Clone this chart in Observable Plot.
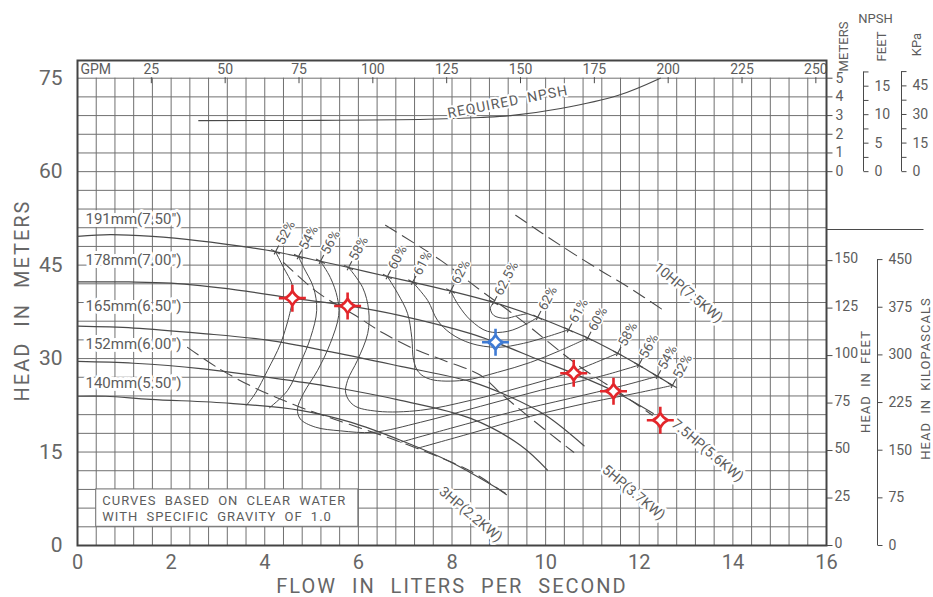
<!DOCTYPE html>
<html><head><meta charset="utf-8">
<script src="https://cdn.jsdelivr.net/npm/d3@7"></script>
<script src="https://cdn.jsdelivr.net/npm/@observablehq/plot@0.6"></script>
<style>body{margin:0;background:#fff}</style>
</head><body><div id="chart"></div>
<script>
// ---------- axis ticks ----------
const flowTicks = [0, 2, 4, 6, 8, 10, 12, 14, 16];
const headTicks = [0, 15, 30, 45, 60, 75];
const gpmTicks = [25, 50, 75, 100, 125, 150, 175, 200, 225, 250];
const npshMeters = [0, 1, 2, 3, 4, 5];
const npshFeetLabels = [0, 5, 10, 15];
const npshKpaLabels = [0, 15, 30, 45];
const headFeetTicks = [0, 25, 50, 75, 100, 125, 150];
const headKpaTicks = [0, 75, 150, 225, 300, 375, 450];

// ---------- impeller head curves [flow L/s, head m] ----------
const impellerNames = ["191mm(7.50\")", "178mm(7.00\")", "165mm(6.50\")", "152mm(6.00\")", "140mm(5.50\")"];
const impellerLabelHead = [52.3, 45.8, 38.4, 32.3, 26.0];
const imp191 = [[0,49.6],[0.7,49.9],[1.6,49.6],[2.6,48.9],[3.7,47.8],[4.23,47.15],[5.19,45.62],[5.79,44.62],[6.62,43.17],[7.16,42.27],[7.97,40.85],[8.89,39.02],[9.83,36.63],[10.49,34.63],[10.9,33.3],[11.54,30.85],[11.99,28.94],[12.39,27.15],[12.71,25.7]];
const imp178 = [[0,42.3],[1.1,42.3],[2.0,42.1],[3.42,41.0],[4.59,39.7],[5.77,38.5],[6.9,36.9],[8.4,34.0],[8.93,32.6],[9.89,29.7],[10.6,27.6],[11.45,24.8],[12.3,21.2]];
const imp165 = [[0,35.2],[1.2,34.9],[2.63,34.05],[4.06,32.95],[5.47,31.0],[6.9,28.76],[8.4,26.3],[9.2,24.0],[10.0,20.9],[10.82,16.0]];
const imp152 = [[0,29.55],[1.2,29.25],[2.63,28.4],[4.06,27.0],[5.47,25.4],[6.9,23.3],[8.4,20.4],[9.46,16.1],[10.04,12.1]];
const imp140 = [[0,23.95],[0.6,23.95],[1.56,23.46],[3.27,22.82],[4.76,21.7],[5.83,19.8],[6.9,16.89],[7.97,13.4],[9.14,8.4]];

// ---------- efficiency iso-lines ----------
const eff52L = [[4.23,47.15],[4.40,44.64],[4.59,41.75],[4.59,39.66],[4.55,37.74],[4.34,32.45],[4.06,28.12],[3.80,24.43],[3.61,22.5]];
const eff52R = [[7.26,15.6],[8.40,18.0],[9.68,20.74],[10.96,22.98],[12.03,24.59],[12.71,25.7]];
const eff54L = [[4.72,46.37],[4.83,44.64],[5.04,41.43],[5.11,37.74],[4.98,33.41],[4.76,29.24],[4.49,24.91],[4.10,22.1]];
const eff54R = [[6.90,16.57],[7.97,18.81],[9.25,21.38],[10.53,23.63],[11.6,25.55],[12.39,27.15]];
const eff56 = [[5.19,45.62],[5.40,43.03],[5.55,39.82],[5.58,36.94],[5.40,32.45],[5.13,28.12],[4.83,24.43],[4.70,21.9],[4.76,20.3],[5.08,19.0],[5.62,18.4],[6.32,18.17],[7.33,19.78],[8.61,22.34],[9.89,24.91],[11.17,27.15],[11.99,28.94]];
const eff58 = [[5.79,44.62],[6.09,41.43],[6.22,37.74],[6.20,34.05],[5.98,29.72],[5.77,26.51],[5.73,24.43],[5.90,22.5],[6.41,21.54],[7.33,21.7],[8.40,23.3],[9.46,25.39],[10.53,27.79],[11.54,30.85]];
const eff60 = [[6.62,43.17],[6.84,40.46],[7.05,37.26],[7.14,33.41],[7.18,29.72],[7.29,27.79],[7.54,26.67],[8.25,26.51],[8.97,27.79],[9.68,29.40],[10.32,31.32],[10.9,33.3]];
const eff61 = [[7.16,42.27],[7.48,39.34],[7.69,36.14],[7.97,34.05],[8.40,32.45],[8.97,31.81],[9.53,32.45],[10.06,33.57],[10.49,34.63]];
const eff62 = [[7.97,40.85],[8.14,38.54],[8.40,36.14],[8.76,34.37],[9.19,34.37],[9.61,35.65],[9.83,36.63]];
const eff625 = [[8.89,39.02],[8.82,38.06],[8.89,36.94],[9.14,36.46],[9.40,36.9],[9.6,37.2]];

const effTickFlow = [4.23, 4.72, 5.19, 5.79, 6.62, 7.16, 7.97, 8.89, 9.83, 10.49, 10.9, 11.54, 11.99, 12.39, 12.71];
const effTickHead = [47.15, 46.37, 45.62, 44.62, 43.17, 42.27, 40.85, 39.02, 36.63, 34.63, 33.3, 30.85, 28.94, 27.15, 25.7];
const effTickLabel = ["52%","54%","56%","58%","60%","61%","62%","62.5%","62%","61%","60%","58%","56%","54%","52%"];

// ---------- horsepower lines ----------
const hp3 = [[2.35,31.8],[3.0,28.5],[3.76,25.4],[4.76,22.2],[5.47,20.3],[6.9,16.6],[8.4,11.9],[9.19,8.0]];
const hp5 = [[4.40,45.44],[5.13,40.62],[6.00,36.62],[6.54,34.05],[7.26,31.32],[7.82,29.72],[8.61,27.31],[9.04,24.43],[9.68,20.42],[10.60,14.96]];
const hp75 = [[6.58,51.4],[7.76,45.76],[8.61,40.95],[9.40,36.62],[10.75,28.60],[11.60,24.43],[12.28,20.90]];
const hp10 = [[9.36,53.0],[10.32,48.16],[11.17,44.15],[11.81,41.27],[12.52,37.74]];
const hpLabelText = ["3HP(2.2KW)", "5HP(3.7KW)", "7.5HP(5.6KW)", "10HP(7.5KW)"];
const hpLabelFlow = [8.40, 11.88, 13.46, 13.05];
const hpLabelHead = [5.0, 8.5, 15.25, 40.6];

// ---------- NPSH required [flow L/s, NPSH m] ----------
const npshReq = [[2.59,2.73],[4.76,2.74],[7.48,2.80],[8.61,2.90],[9.25,3.0],[10.32,3.38],[11.54,4.07],[12.45,5.0]];

// ---------- operating points ----------
const redPoints = [[4.59,39.7],[5.77,38.45],[10.6,27.65],[11.45,24.75],[12.45,20.1]];
const bluePoints = [[8.93,32.62]];

const noteLines = ["CURVES BASED ON CLEAR WATER", "WITH SPECIFIC GRAVITY OF 1.0"];

// ---------- layout ----------
const W = 933, H = 597, ML = 77, MR = 107, MT = 60, MB = 52;
const YMAX = 77.84;
const kx = 16 / (W - ML - MR);
const ky = YMAX / (H - MT - MB);
const XR = px => 16 + px * kx;        // px right of frame
const XL = px => -px * kx;            // px left of frame
const YP = py => (H - MB - py) * ky;  // absolute page y -> head
const npshY = m => 60 + 3 * m;
const GPM = 0.0630902;

const LINE = "#4a4a4a", GRID = "#707070", TXT = "#5c5c5c";
const gridFlow = d3.range(0, 16.001, 0.4);
const gridHead = d3.range(0, 75.001, 3);

const ang = 62 * Math.PI / 180, ux = Math.cos(ang), uy = Math.sin(ang);
const effTicks = effTickFlow.map((f, i) => ({f, h: effTickHead[i], label: effTickLabel[i]}));
const tickSegs = [];
for (const d of effTicks) {
  tickSegs.push({x1: d.f - 3*ux*kx, y1: d.h - 3*uy*ky, x2: d.f + 7*ux*kx, y2: d.h + 7*uy*ky});
  tickSegs.push({x1: d.f - 5*uy*kx, y1: d.h + 5*ux*ky, x2: d.f + 5*uy*kx, y2: d.h - 5*ux*ky});
}

const star = {
  draw(ctx, size) {
    const r = Math.sqrt(size / Math.PI), a = r * 0.56, c = a * 0.32;
    ctx.moveTo(0, -a);
    ctx.quadraticCurveTo(c, -c, a, 0);
    ctx.quadraticCurveTo(c, c, 0, a);
    ctx.quadraticCurveTo(-c, c, -a, 0);
    ctx.quadraticCurveTo(-c, -c, 0, -a);
    ctx.closePath();
    ctx.moveTo(0, -a); ctx.lineTo(0, -r);
    ctx.moveTo(a, 0); ctx.lineTo(r, 0);
    ctx.moveTo(0, a); ctx.lineTo(0, r);
    ctx.moveTo(-a, 0); ctx.lineTo(-r, 0);
  }
};

const P = d => d[0], Q = d => d[1];
const impellers = [imp191, imp178, imp165, imp152, imp140];
const effCurves = [eff52L, eff52R, eff54L, eff54R, eff56, eff58, eff60, eff61, eff62, eff625];
const hpCurves = [hp3, hp5, hp75, hp10];

const marks = [
  Plot.ruleX(gridFlow, {x: d => d, y1: 0, y2: 75, stroke: GRID, strokeWidth: 1}),
  Plot.ruleY(gridHead, {y: d => d, x1: 0, x2: 16, stroke: GRID, strokeWidth: 1}),
  // note box
  Plot.rect([0], {x1: 0.4, x2: 6.0, y1: 3, y2: 9, fill: "white", stroke: GRID, strokeWidth: 1}),
  Plot.text(noteLines, {x: 0.53, y: (d, i) => 7.1 - i * 2.55, text: d => d, textAnchor: "start", fontSize: 13, fill: TXT}),
  // GPM band
  Plot.link(gpmTicks, {x1: g => g * GPM, x2: g => g * GPM, y1: 75 + 1 * ky, y2: 75 - 5 * ky, stroke: LINE}),
  Plot.text(gpmTicks, {x: g => g * GPM, y: YP(69), text: g => String(g), fontSize: 14, fill: TXT}),
  Plot.text(["GPM"], {x: XL(-3), y: YP(69), text: d => d, textAnchor: "start", fontSize: 14, fill: TXT}),
  Plot.frame({stroke: "#444", strokeWidth: 2}),
  // NPSH required
  Plot.line(npshReq, {x: P, y: d => npshY(d[1]), curve: "catmull-rom", stroke: LINE, strokeWidth: 1.1}),
  Plot.text(["REQUIRED NPSH"], {x: 9.19, y: 71.2, text: d => d, rotate: -11, fontSize: 14, fill: TXT, stroke: "white", strokeWidth: 4}),
  // HP dashed lines
  ...hpCurves.map(c => Plot.line(c, {x: P, y: Q, curve: "catmull-rom", stroke: LINE, strokeWidth: 1.1, strokeDasharray: "13,7"})),
  // efficiency lines
  ...effCurves.map(c => Plot.line(c, {x: P, y: Q, curve: "catmull-rom", stroke: LINE, strokeWidth: 1})),
  // impeller curves
  ...impellers.map(c => Plot.line(c, {x: P, y: Q, curve: "catmull-rom", stroke: LINE, strokeWidth: 1.2})),
  Plot.text(impellerNames, {x: 0.17, y: (d, i) => impellerLabelHead[i], text: d => d, textAnchor: "start", fontSize: 15, fill: TXT, stroke: "white", strokeWidth: 6}),
  // efficiency ticks + labels
  Plot.link(tickSegs, {x1: "x1", y1: "y1", x2: "x2", y2: "y2", stroke: LINE, strokeWidth: 1.1}),
  Plot.text(effTicks, {x: "f", y: "h", text: "label", rotate: -62, textAnchor: "start", dx: 9 * ux, dy: -9 * uy, fontSize: 13.5, fill: TXT, stroke: "white", strokeWidth: 3}),
  // HP labels
  Plot.text(hpLabelText, {x: (d, i) => hpLabelFlow[i], y: (d, i) => hpLabelHead[i], text: d => d, rotate: 40, fontSize: 14, fill: TXT, stroke: "white", strokeWidth: 5}),
  // operating points
  Plot.dot(redPoints, {x: P, y: Q, r: 13.5, symbol: star, fill: "white", stroke: "#e3262b", strokeWidth: 2.6}),
  Plot.dot(bluePoints, {x: P, y: Q, r: 13.5, symbol: star, fill: "white", stroke: "#3f7bd4", strokeWidth: 2.6}),
  // left & bottom axes
  Plot.text(headTicks, {x: 0, y: d => d, dx: -15, text: d => String(d), textAnchor: "end", fontSize: 21, fill: "#666"}),
  Plot.text(flowTicks, {x: d => d, y: 0, dy: 17, text: d => String(d), fontSize: 20, fill: "#666"}),
  Plot.text(["FLOW IN LITERS PER SECOND"], {x: 8, y: YP(586), text: d => d, fontSize: 20, fill: "#666"}),
  Plot.text(["HEAD IN METERS"], {x: XL(55), y: YP(300), text: d => d, rotate: -90, fontSize: 20, fill: "#666"}),
  // NPSH meters scale
  Plot.link(npshMeters, {x1: 16, x2: XR(6), y1: npshY, y2: npshY, stroke: LINE}),
  Plot.text(npshMeters, {x: 16, y: npshY, dx: 9, text: d => String(d), textAnchor: "start", fontSize: 14, fill: TXT}),
  Plot.text(["METERS"], {x: XR(17), y: YP(46), text: d => d, rotate: -90, fontSize: 13, fill: TXT}),
  Plot.text(["NPSH"], {x: XR(49), y: YP(18), text: d => d, fontSize: 13, fill: TXT}),
  Plot.text(["FEET"], {x: XR(55), y: YP(46), text: d => d, rotate: -90, fontSize: 13, fill: TXT}),
  Plot.text(["KPa"], {x: XR(90), y: YP(44), text: d => d, rotate: -90, fontSize: 13, fill: TXT}),
  // NPSH feet bracket
  Plot.ruleX([XR(37)], {x: d => d, y1: npshY(0), y2: npshY(17.5 * 0.3048), stroke: LINE}),
  Plot.link(d3.range(0, 17.51, 2.5), {x1: XR(37), x2: XR(42), y1: ft => npshY(ft * 0.3048), y2: ft => npshY(ft * 0.3048), stroke: LINE}),
  Plot.text(npshFeetLabels, {x: XR(48), y: ft => npshY(ft * 0.3048), text: d => String(d), textAnchor: "start", fontSize: 14, fill: TXT}),
  // NPSH kPa bracket
  Plot.ruleX([XR(75)], {x: d => d, y1: npshY(0), y2: npshY(52.5 / 9.80665), stroke: LINE}),
  Plot.link(d3.range(0, 52.51, 7.5), {x1: XR(75), x2: XR(80), y1: k => npshY(k / 9.80665), y2: k => npshY(k / 9.80665), stroke: LINE}),
  Plot.text(npshKpaLabels, {x: XR(86), y: k => npshY(k / 9.80665), text: d => String(d), textAnchor: "start", fontSize: 14, fill: TXT}),
  // separator
  Plot.link([0], {x1: 16, x2: XR(97), y1: YP(229), y2: YP(229), stroke: LINE}),
  // head in feet
  Plot.link(headFeetTicks, {x1: 16, x2: XR(6), y1: ft => ft * 0.3048, y2: ft => ft * 0.3048, stroke: LINE}),
  Plot.text(headFeetTicks, {x: 16, y: ft => ft * 0.3048, dx: 8, dy: -2, text: d => String(d), textAnchor: "start", fontSize: 14, fill: TXT}),
  Plot.text(["HEAD IN FEET"], {x: XR(39), y: YP(381), text: d => d, rotate: -90, fontSize: 13, fill: TXT}),
  // head in kPa
  Plot.ruleX([XR(51)], {x: d => d, y1: 0, y2: 450 / 9.80665, stroke: LINE}),
  Plot.link(headKpaTicks, {x1: XR(51), x2: XR(56), y1: k => k / 9.80665, y2: k => k / 9.80665, stroke: LINE}),
  Plot.text(headKpaTicks, {x: XR(62), y: k => k / 9.80665, text: d => String(d), textAnchor: "start", fontSize: 14, fill: TXT}),
  Plot.text(["HEAD IN KILOPASCALS"], {x: XR(99), y: YP(378), text: d => d, rotate: -90, fontSize: 13, fill: TXT})
];

const chart = Plot.plot({
  width: W, height: H,
  marginLeft: ML, marginRight: MR, marginTop: MT, marginBottom: MB,
  x: {domain: [0, 16], axis: null},
  y: {domain: [0, YMAX], axis: null},
  style: {fontFamily: "Roboto, 'Liberation Sans', sans-serif", background: "white", overflow: "visible"},
  marks
});
const spacing = {
  "FLOW IN LITERS PER SECOND": ["2px", "8px"],
  "HEAD IN METERS": ["2px", "8px"],
  "CURVES BASED ON CLEAR WATER": ["1px", "4px"],
  "WITH SPECIFIC GRAVITY OF 1.0": ["1px", "4px"],
  "REQUIRED NPSH": ["1px", "4px"],
  "HEAD IN FEET": ["1px", "4px"],
  "HEAD IN KILOPASCALS": ["1px", "4px"]
};
d3.select(chart).selectAll("text").each(function() {
  const s = spacing[this.textContent];
  if (s) { this.setAttribute("letter-spacing", s[0]); this.setAttribute("word-spacing", s[1]); }
});
document.getElementById("chart").appendChild(chart);
</script>
</body></html>
